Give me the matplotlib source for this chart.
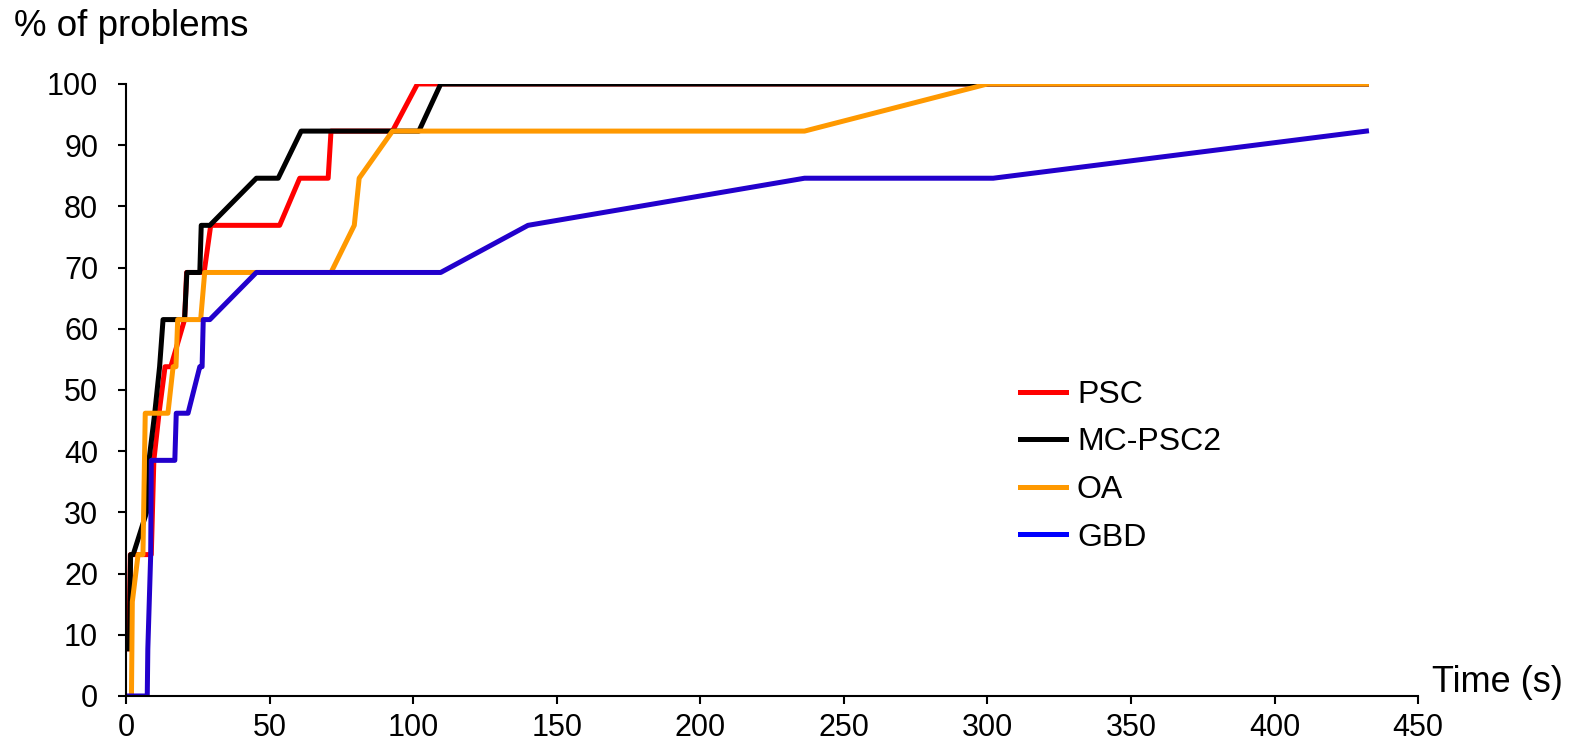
import numpy as np
import matplotlib.pyplot as plt

plt.rcParams['font.family'] = ['Liberation Sans', 'DejaVu Sans']

# solve time (s) vs. % of problems solved
psc_t = [1.0, 1.5, 8.8, 9.7, 11.5, 13.6, 15.6, 20.4, 21.1, 27.2, 29.5, 53.5, 60.5, 70.4, 71.4, 92.8, 101.5, 432]
psc_p = [7.7, 23.1, 23.1, 38.5, 46.2, 53.8, 53.8, 61.5, 69.2, 69.2, 76.9, 76.9, 84.6, 84.6, 92.3, 92.3, 100, 100]

mc_t = [1.2, 1.6, 2.5, 7.7, 8.0, 10.0, 11.7, 12.9, 20.4, 21.2, 25.7, 26.2, 29.2, 45.4, 53.0, 61.0, 102.0, 109.6, 432]
mc_p = [7.7, 23.1, 23.1, 30.8, 38.5, 46.2, 53.8, 61.5, 61.5, 69.2, 69.2, 76.9, 76.9, 84.6, 84.6, 92.3, 92.3, 100, 100]

oa_t = [1.9, 2.2, 4.2, 5.9, 6.7, 14.6, 16.4, 17.4, 18.0, 26.0, 27.4, 71.4, 79.5, 81.2, 92.8, 236.3, 300, 432]
oa_p = [0, 15.4, 23.1, 23.1, 46.2, 46.2, 53.8, 53.8, 61.5, 61.5, 69.2, 69.2, 76.9, 84.6, 92.3, 92.3, 100, 100]

gbd_t = [0, 7.4, 7.6, 8.6, 8.8, 17.0, 17.5, 21.6, 25.7, 26.5, 26.9, 29.2, 45.4, 109.6, 140, 236.3, 302, 432]
gbd_p = [0, 0, 7.7, 23.1, 38.5, 38.5, 46.2, 46.2, 53.8, 53.8, 61.5, 61.5, 69.2, 69.2, 76.9, 84.6, 84.6, 92.3]

fig = plt.figure(figsize=(15.81, 7.47), dpi=100)
ax = fig.add_axes([0.0797, 0.0683, 0.8173, 0.8193])

lw = 3.6
ax.plot(psc_t, psc_p, color='#ff0000', lw=lw, label='PSC')
ax.plot(mc_t, mc_p, color='#000000', lw=lw, label='MC-PSC2')
ax.plot(oa_t, oa_p, color='#ff9900', lw=lw, label='OA')
ax.plot(gbd_t, gbd_p, color='#2200cc', lw=lw, label='GBD')

ax.set_xlim(0, 450)
ax.set_ylim(0, 100)
ax.set_xticks(np.arange(0, 451, 50))
ax.set_yticks(np.arange(0, 101, 10))
ax.spines['top'].set_visible(False)
ax.spines['right'].set_visible(False)
ax.spines['left'].set_linewidth(1.5)
ax.spines['bottom'].set_linewidth(1.5)
ax.tick_params(direction='out', length=6, width=1.5, labelsize=22)
ax.tick_params(axis='y', pad=14)
ax.tick_params(axis='x', pad=6)

leg = ax.legend(loc='upper left', bbox_to_anchor=(0.627, 0.53), bbox_transform=fig.transFigure,
                frameon=False, fontsize=23, handlelength=1.45, handletextpad=0.33,
                labelspacing=0.55)
for line in leg.get_lines():
    line.set_linewidth(3.6)
leg.get_lines()[3].set_color('#0000ff')

fig.text(0.009, 0.965, '% of problems', fontsize=26.5, ha='left', va='center')
fig.text(0.906, 0.0857, 'Time (s)', fontsize=26, ha='left', va='center')

plt.savefig('out.png', dpi=100)
